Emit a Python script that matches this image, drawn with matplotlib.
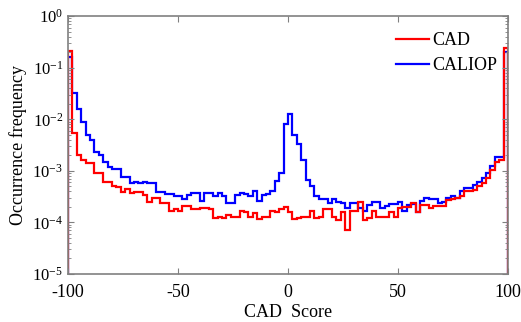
import matplotlib
matplotlib.use("Agg")
import matplotlib.pyplot as plt
import numpy as np

plt.rcParams['font.family'] = ['Liberation Serif', 'DejaVu Serif']
plt.rcParams['mathtext.fontset'] = 'custom'
plt.rcParams['mathtext.rm'] = 'Liberation Serif'
plt.rcParams['mathtext.it'] = 'Liberation Serif:italic'

# CAD score bins, width 2, from -100 to 100
bin_edges = np.arange(-100, 101, 2)

# occurrence frequency per bin
cad_freq = [
    2.1e-1, 5.4e-3, 2.0e-3, 1.6e-3, 1.4e-3, 1.4e-3, 9.1e-4, 9.1e-4, 6.0e-4, 6.0e-4,
    5.2e-4, 4.9e-4, 3.9e-4, 4.5e-4, 3.7e-4, 3.9e-4, 3.9e-4, 3.4e-4, 2.5e-4, 3.0e-4,
    3.0e-4, 2.4e-4, 2.4e-4, 1.7e-4, 1.8e-4, 1.7e-4, 2.1e-4, 2.1e-4, 1.8e-4, 1.8e-4,
    1.9e-4, 1.9e-4, 1.8e-4, 1.2e-4, 1.3e-4, 1.2e-4, 1.4e-4, 1.3e-4, 1.3e-4, 1.7e-4,
    1.6e-4, 1.3e-4, 1.5e-4, 1.15e-4, 1.25e-4, 1.3e-4, 1.7e-4, 1.6e-4, 1.8e-4, 2.0e-4,
    1.6e-4, 1.15e-4, 1.2e-4, 1.3e-4, 1.3e-4, 1.7e-4, 1.2e-4, 1.25e-4, 1.8e-4, 1.8e-4,
    1.25e-4, 1.1e-4, 1.6e-4, 7.0e-5, 1.7e-4, 1.7e-4, 2.5e-4, 1.1e-4, 1.2e-4, 1.7e-4,
    1.25e-4, 1.25e-4, 1.25e-4, 1.6e-4, 1.3e-4, 1.9e-4, 2.0e-4, 2.0e-4, 2.4e-4, 1.6e-4,
    2.2e-4, 2.2e-4, 1.9e-4, 2.1e-4, 2.1e-4, 2.1e-4, 2.7e-4, 2.8e-4, 3.0e-4, 3.2e-4,
    4.0e-4, 4.0e-4, 4.3e-4, 5.0e-4, 5.8e-4, 7.2e-4, 1.05e-3, 1.5e-3, 1.6e-3, 2.4e-1,
]
caliop_freq = [
    1.6e-1, 3.2e-2, 1.6e-2, 8.9e-3, 5.0e-3, 4.0e-3, 2.3e-3, 2.0e-3, 1.5e-3, 1.2e-3,
    1.1e-3, 1.1e-3, 7.6e-4, 7.6e-4, 5.8e-4, 6.0e-4, 5.8e-4, 6.0e-4, 5.8e-4, 5.8e-4,
    3.9e-4, 3.9e-4, 3.5e-4, 3.5e-4, 3.2e-4, 3.2e-4, 2.8e-4, 3.4e-4, 3.7e-4, 3.7e-4,
    2.6e-4, 3.7e-4, 3.7e-4, 3.2e-4, 3.8e-4, 3.2e-4, 2.4e-4, 2.4e-4, 3.4e-4, 3.8e-4,
    3.5e-4, 3.2e-4, 4.0e-4, 2.6e-4, 3.4e-4, 3.5e-4, 4.0e-4, 6.3e-4, 8.9e-4, 8.1e-3,
    1.26e-2, 4.9e-3, 3.3e-3, 1.6e-3, 6.6e-4, 5.0e-4, 3.2e-4, 2.8e-4, 2.8e-4, 2.4e-4,
    2.8e-4, 2.5e-4, 2.4e-4, 1.9e-4, 2.4e-4, 2.4e-4, 1.9e-4, 1.7e-4, 2.2e-4, 2.5e-4,
    2.5e-4, 1.9e-4, 2.1e-4, 2.3e-4, 2.3e-4, 2.5e-4, 1.7e-4, 2.2e-4, 2.3e-4, 1.6e-4,
    2.6e-4, 3.0e-4, 2.8e-4, 2.8e-4, 2.4e-4, 2.5e-4, 3.0e-4, 3.2e-4, 3.0e-4, 4.0e-4,
    4.7e-4, 4.7e-4, 5.4e-4, 6.0e-4, 7.2e-4, 8.9e-4, 1.26e-3, 1.86e-3, 1.86e-3, 2.0e-1,
]

fig = plt.figure(figsize=(5.21, 3.22), dpi=100)
ax = fig.add_axes([0.1305, 0.149, 0.8445, 0.801])

ax.stairs(caliop_freq, bin_edges, baseline=1e-7, color='#0000ff', lw=1.6, label='CALIOP')
ax.stairs(cad_freq, bin_edges, baseline=1e-7, color='#ff0000', lw=1.6, label='CAD')

ax.set_yscale('log')
ax.set_xlim(-100, 100)
ax.set_ylim(1e-5, 1)
ax.set_xticks([-100, -50, 0, 50, 100])
ax.set_xticklabels(['-100', '-50', '0', '50', '100'])

ax.tick_params(which='both', direction='in', top=True, right=True,
               colors='#808080', labelcolor='black', labelsize=12)
ax.tick_params(axis='x', labelsize=13, pad=7)
ax.tick_params(which='major', length=4)
ax.tick_params(which='minor', length=2)
for sp in ax.spines.values():
    sp.set_color('#808080')
    sp.set_linewidth(1.2)

ax.set_xlabel('CAD  Score', fontsize=13, labelpad=2)
ax.set_ylabel('Occurrence frequency', fontsize=13, labelpad=4)

handles, labels = ax.get_legend_handles_labels()
ax.legend(handles[::-1], labels[::-1], loc='upper right', frameon=False,
          fontsize=13, handlelength=1.8, handletextpad=0.2, labelspacing=0.45,
          bbox_to_anchor=(1.0, 0.98), borderaxespad=0.2)

fig.savefig('out.png', dpi=100)
